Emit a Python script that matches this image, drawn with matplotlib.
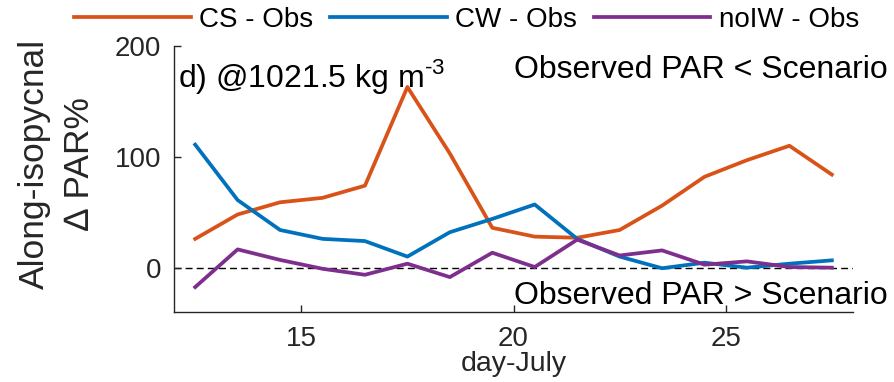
import numpy as np
import matplotlib
matplotlib.use("Agg")
import matplotlib.pyplot as plt

plt.rcParams["font.family"] = ["Liberation Sans", "DejaVu Sans"]

# day of July (bin centres)
days = [12.5, 13.5, 14.5, 15.5, 16.5, 17.5, 18.5, 19.5,
        20.5, 21.5, 22.5, 23.5, 24.5, 25.5, 26.5, 27.5]
cs_obs = [26, 48, 59, 63, 74, 163, 103, 36, 28, 27, 34, 56, 82, 97, 110, 84]
cw_obs = [111, 61, 34, 26, 24, 10, 32, 44, 57, 26, 10, -0.5, 4.5, 0, 3.6, 6.6]
noiw_obs = [-17.5, 16.5, 7, -1, -6.4, 3.6, -8.5, 13.5, 0.6, 25.3, 11, 15.6, 2.7, 5.7, 0.6, 0]

SERIES = [("CS - Obs", cs_obs, "#D95319"),
          ("CW - Obs", cw_obs, "#0072BD"),
          ("noIW - Obs", noiw_obs, "#7E2F8E")]
XTICKS = [15, 20, 25]
YTICKS = [0, 100, 200]
EDGE = "#262626"


def main():
    fig = plt.figure(figsize=(8.94, 3.82), dpi=100)
    ax = fig.add_axes([0.1946, 0.1832, 0.7596, 0.6964])

    for lab, vals, c in SERIES:
        ax.plot(days, vals, color=c, lw=2.7, label=lab)
    ax.axhline(0, color="k", lw=1.0, ls=(0, (5, 3)), zorder=0)

    ax.set_xlim(12, 28)
    ax.set_ylim(-40, 200)
    ax.set_xticks(XTICKS)
    ax.set_yticks(YTICKS)
    ax.tick_params(direction="in", length=5, width=1, colors=EDGE,
                   labelsize=20, labelcolor=EDGE)
    ax.tick_params(axis="x", pad=10)
    ax.tick_params(axis="y", pad=9)
    for sp in ("top", "right"):
        ax.spines[sp].set_visible(False)
    for sp in ("left", "bottom"):
        ax.spines[sp].set_color(EDGE)
        ax.spines[sp].set_linewidth(1.0)

    ax.set_xlabel("day-July", fontsize=20.5, labelpad=-1, color=EDGE)
    fig.text(57 / 894, 1 - 164 / 382, "Along-isopycnal\n\u2206 PAR%",
             rotation=90, ha="center", va="center", fontsize=25.5,
             linespacing=1.45, multialignment="center", color=EDGE)

    ax.text(12.1, 163, "d) @1021.5 kg m$^{\\mathregular{\u20103}}$", fontsize=23,
            ha="left", va="baseline", color="k")
    ax.text(20.0, 171, "Observed PAR < Scenario", fontsize=23,
            ha="left", va="baseline", color="k", clip_on=False)
    ax.text(20.0, -32.5, "Observed PAR > Scenario", fontsize=23,
            ha="left", va="baseline", color="k", clip_on=False)

    fig.legend(loc="center", bbox_to_anchor=(0.522, 0.948), ncol=3,
               frameon=False, fontsize=20, handlelength=4.2,
               handletextpad=0.3, columnspacing=0.6, borderpad=0)

    fig.savefig("out.png", dpi=100)


if __name__ == "__main__":
    main()
